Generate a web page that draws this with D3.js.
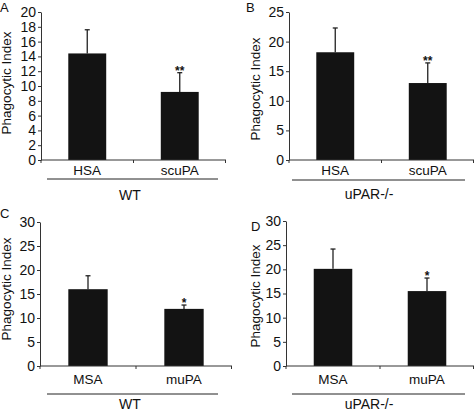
<!DOCTYPE html>
<html><head><meta charset="utf-8">
<script src="https://cdn.jsdelivr.net/npm/d3@7"></script>
<style>
html,body{margin:0;padding:0;background:#fff;}
svg text{font-family:"Liberation Sans",Arial,sans-serif;fill:#111;}
</style></head>
<body><svg id="chart" width="474" height="413"></svg>
<script>
// ---- data ----
const panelLetters = ["A", "B", "C", "D"];
const categoriesTop = ["HSA", "scuPA"];
const categoriesBottom = ["MSA", "muPA"];
const panelCategories = [categoriesTop, categoriesTop, categoriesBottom, categoriesBottom];
const groupLabels = ["WT", "uPAR-/-", "WT", "uPAR-/-"];
const valuesA = [14.4, 9.2];
const valuesB = [18.2, 13.0];
const valuesC = [16.0, 11.9];
const valuesD = [20.1, 15.5];
const errorsA = [3.2, 2.6];
const errorsB = [4.1, 3.4];
const errorsC = [2.8, 0.8];
const errorsD = [4.1, 2.7];
const signifA = ["", "**"];
const signifB = ["", "**"];
const signifC = ["", "*"];
const signifD = ["", "*"];
const yMaxes = [20, 25, 30, 30];
const yTickValuesA = [0, 2, 4, 6, 8, 10, 12, 14, 16, 18, 20];
const yTickValuesB = [0, 5, 10, 15, 20, 25];
const yTickValuesC = [0, 5, 10, 15, 20, 25, 30];
const yTickValuesD = [0, 5, 10, 15, 20, 25, 30];
const yAxisTitle = "Phagocytic Index";

// ---- layout (positions only) ----
const layouts = [
  {x0: 41, x1: 226, y0: 160, y1: 12, catY: 175, lineY: 179, lineX: [47, 218], grpY: 200, grpX: 130, titleX: 11, titleY: 83, letter: [0, 12]},
  {x0: 289, x1: 474, y0: 160, y1: 12, catY: 175, lineY: 180, lineX: [292, 465], grpY: 199, grpX: 369, titleX: 260, titleY: 89, letter: [246, 12]},
  {x0: 40, x1: 232, y0: 366, y1: 222, catY: 384, lineY: 394, lineX: [47, 218], grpY: 409, grpX: 130, titleX: 11, titleY: 289, letter: [0, 218]},
  {x0: 286, x1: 474, y0: 366, y1: 221, catY: 384, lineY: 394, lineX: [292, 465], grpY: 409, grpX: 369, titleX: 260, titleY: 296, letter: [251, 231]}
];

const values = [valuesA, valuesB, valuesC, valuesD];
const errors = [errorsA, errorsB, errorsC, errorsD];
const signifs = [signifA, signifB, signifC, signifD];
const tickVals = [yTickValuesA, yTickValuesB, yTickValuesC, yTickValuesD];

const svg = d3.select("#chart");
const axisColor = "#333";

layouts.forEach((L, i) => {
  const g = svg.append("g");
  const cats = panelCategories[i];
  const x = d3.scaleBand().domain(cats).range([L.x0, L.x1]).paddingInner(0.59).paddingOuter(0.295);
  const y = d3.scaleLinear().domain([0, yMaxes[i]]).range([L.y0, L.y1]);

  const data = cats.map((c, j) => ({c, v: values[i][j], e: errors[i][j], s: signifs[i][j]}));
  // error bars
  g.selectAll(".err").data(data).join("line")
    .attr("x1", d => x(d.c) + x.bandwidth() / 2).attr("x2", d => x(d.c) + x.bandwidth() / 2)
    .attr("y1", d => y(d.v)).attr("y2", d => y(d.v + d.e))
    .attr("stroke", "#222").attr("stroke-width", 1.3);
  g.selectAll(".cap").data(data).join("line")
    .attr("x1", d => x(d.c) + x.bandwidth() / 2 - 2.5).attr("x2", d => x(d.c) + x.bandwidth() / 2 + 2.5)
    .attr("y1", d => y(d.v + d.e)).attr("y2", d => y(d.v + d.e))
    .attr("stroke", "#222").attr("stroke-width", 1.3);
  // bars
  g.selectAll(".bar").data(data).join("rect")
    .attr("x", d => x(d.c)).attr("width", x.bandwidth())
    .attr("y", d => y(d.v)).attr("height", d => y(0) - y(d.v))
    .attr("fill", "#131313");
  g.selectAll(".sig").data(data).join("text")
    .attr("x", d => x(d.c) + x.bandwidth() / 2).attr("y", d => y(d.v + d.e) + 2)
    .attr("text-anchor", "middle").attr("font-size", 12).attr("font-weight", "bold")
    .text(d => d.s);

  // y axis
  const ya = g.append("g").attr("transform", `translate(${L.x0},0)`)
    .call(d3.axisLeft(y).tickValues(tickVals[i]).tickSize(3).tickSizeOuter(0).tickPadding(2));
  ya.select(".domain").attr("stroke", axisColor);
  ya.selectAll(".tick line").attr("stroke", axisColor);
  ya.selectAll(".tick text").attr("font-size", 14).attr("fill", "#111")
    .attr("font-family", "Liberation Sans, Arial, sans-serif");

  // x axis line with boundary ticks
  g.append("line").attr("x1", L.x0).attr("x2", L.x1).attr("y1", y(0)).attr("y2", y(0))
    .attr("stroke", axisColor).attr("stroke-width", 1);
  const bounds = [L.x0, (x(cats[0]) + x.bandwidth() + x(cats[1])) / 2, L.x1 - 0.5];
  g.selectAll(".xt").data(bounds).join("line")
    .attr("x1", d => d).attr("x2", d => d).attr("y1", y(0)).attr("y2", y(0) + 3)
    .attr("stroke", axisColor);

  // category labels
  g.selectAll(".cat").data(cats).join("text")
    .attr("x", d => x(d) + x.bandwidth() / 2).attr("y", L.catY)
    .attr("text-anchor", "middle").attr("font-size", 13.5).text(d => d);

  // group underline & label
  g.append("line").attr("x1", L.lineX[0]).attr("x2", L.lineX[1]).attr("y1", L.lineY).attr("y2", L.lineY)
    .attr("stroke", "#222").attr("stroke-width", 1);
  g.append("text").attr("x", L.grpX).attr("y", L.grpY).attr("text-anchor", "middle")
    .attr("font-size", 14).text(groupLabels[i]);

  // y title
  g.append("text").attr("transform", `translate(${L.titleX},${L.titleY}) rotate(-90)`)
    .attr("text-anchor", "middle").attr("font-size", 13.5).text(yAxisTitle);

  // panel letter
  g.append("text").attr("x", L.letter[0]).attr("y", L.letter[1]).attr("font-size", 13)
    .text(panelLetters[i]);
});
</script></body></html>
